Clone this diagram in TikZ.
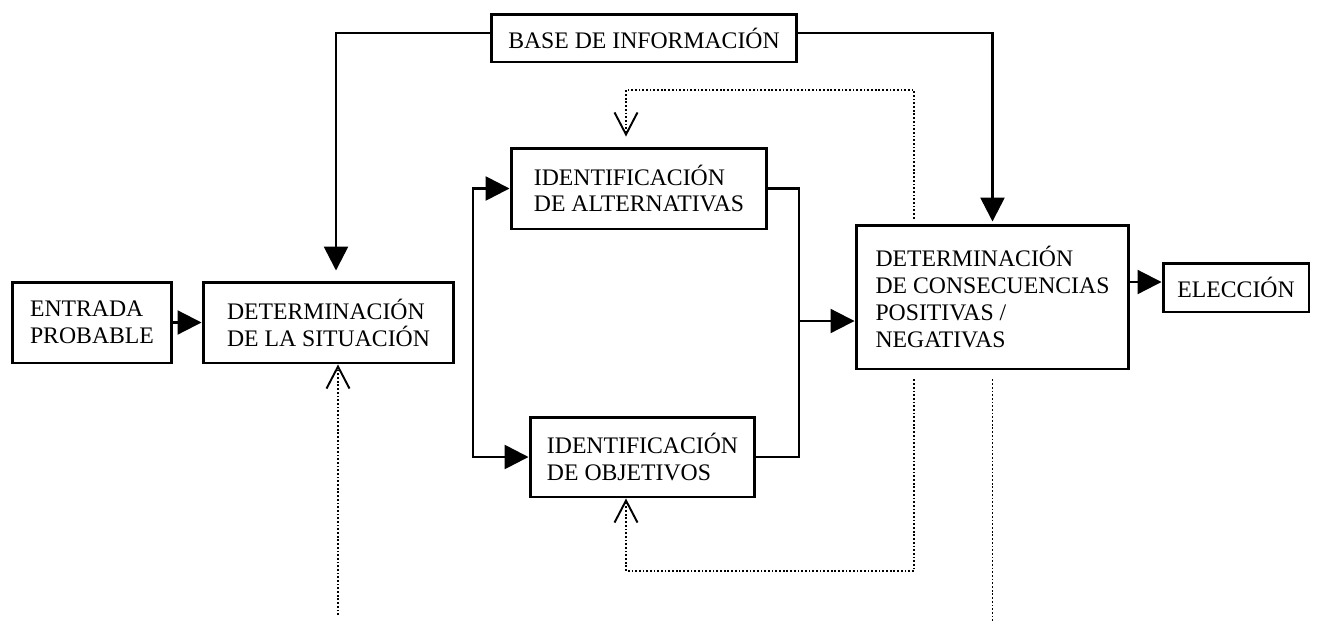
\documentclass[tikz,border=0pt]{standalone}
\usepackage{fontspec}
\setmainfont{Liberation Serif}
\usetikzlibrary{arrows.meta,calc,positioning}

\begin{document}
\begin{tikzpicture}[x=0.02cm, y=-0.02cm, >={Triangle[length=0.48cm,width=0.48cm]}]

    \tikzstyle{caja} = [rectangle, draw=black, line width=1.7pt, align=left, inner sep=0pt, font=\fontsize{13.5}{15.3}\selectfont]
    \tikzstyle{flujo} = [line width=1.5pt]
    \tikzstyle{fino} = [line width=1.2pt]
    \tikzstyle{punteado} = [line width=1pt, dash pattern=on 1pt off 1.1pt]
    \tikzstyle{retro} = [punteado, -{Straight Barb[length=0.44cm,width=0.46cm,line width=1.1pt]}]

    \useasboundingbox (0,0) rectangle (1318,626);

    \node (entrada)       [caja, minimum width=3.2cm, minimum height=1.62cm]  at (92,322.5)   {ENTRADA\\PROBABLE};

    \node (situacion)     [caja, minimum width=5.02cm, minimum height=1.62cm] at (328.5,322.5) {DETERMINACIÓN\\DE LA SITUACIÓN};

    \node (base)          [caja, minimum width=6.12cm, minimum height=0.96cm] at (644,38)      {BASE DE INFORMACIÓN};

    \node (alternativas)  [caja, minimum width=5.12cm, minimum height=1.62cm] at (639,188.5)   {IDENTIFICACIÓN\\DE ALTERNATIVAS};

    \node (objetivos)     [caja, minimum width=4.5cm, minimum height=1.6cm]   at (642.5,457)   {IDENTIFICACIÓN\\DE OBJETIVOS};

    \node (consecuencias) [caja, minimum width=5.46cm, minimum height=2.88cm] at (992.5,297)   {DETERMINACIÓN\\DE CONSECUENCIAS\\POSITIVAS /\\NEGATIVAS};

    \node (eleccion)      [caja, minimum width=2.92cm, minimum height=0.98cm] at (1236,287.5)  {ELECCIÓN};

    \coordinate (izq) at (473,321);
    \coordinate (der) at (799,321);
    \coordinate (r1) at (626,90);
    \coordinate (r2) at (626,571);
    \coordinate (abajo1) at (338,615);
    \coordinate (abajo2) at (991,622);

    \draw[->, fino]  (entrada) -- (situacion);
    \draw[->, flujo] ([yshift=0.1cm]base.west) -| ([xshift=0.15cm,yshift=0.2cm]situacion.north);
    \draw[->, flujo] ([yshift=0.1cm]base.east) -| ([yshift=0.04cm]consecuencias.north);

    \draw[<->, flujo] (alternativas.west) -| (izq) |- (objetivos.west);
    \draw[fino]       (alternativas.east) -| (der) |- (objetivos.east);
    \draw[->, fino]   (der) -- (der -| consecuencias.west);
    \draw[->, fino]   (consecuencias.east |- {$(eleccion.west)+(0,-5.5)$}) -- ($(eleccion.west)+(0,-5.5)$);

    % lazos de retroalimentacion
    \draw[retro] ([xshift=-1.57cm,yshift=0.1cm]consecuencias.north) |- (r1) -- ($(r1 |- alternativas.north)+(0,-10)$);
    \draw[retro] ([xshift=-1.57cm,yshift=-0.18cm]consecuencias.south) |- (r2) -- (r2 |- objetivos.south);
    \draw[retro] (abajo1) -- (abajo1 |- situacion.south);
    \draw[punteado] ([yshift=-0.18cm]consecuencias.south) -- (consecuencias.south |- abajo2);
\end{tikzpicture}
\end{document}
